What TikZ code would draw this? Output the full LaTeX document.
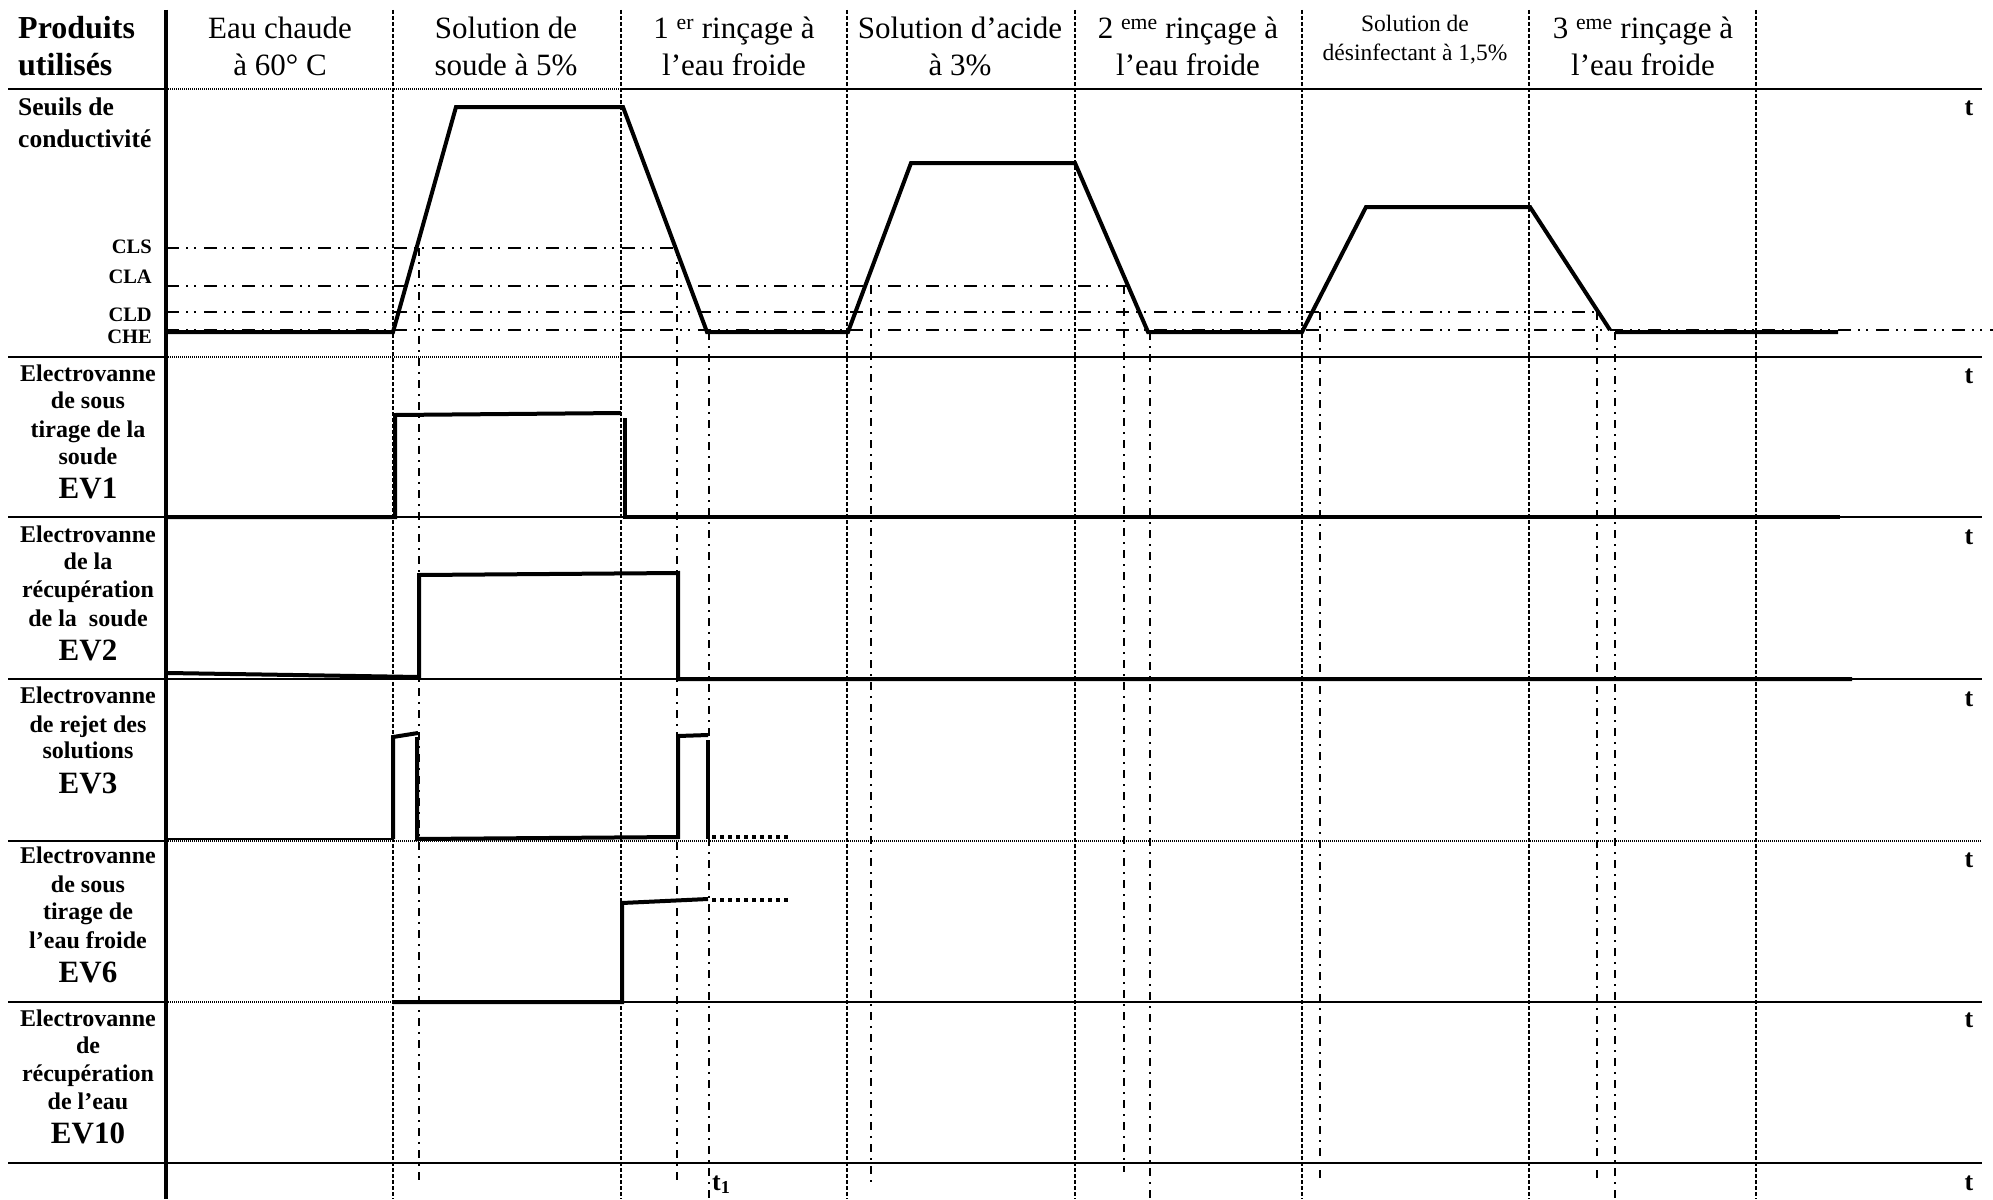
\documentclass[tikz,border=0pt]{standalone}
\usepackage{fontspec}
\setmainfont{Liberation Serif}
\newcommand\myH{\fontsize{31}{36}\selectfont}
\newcommand\myS{\fontsize{23.5}{28}\selectfont}
\newcommand\myL{\bfseries\fontsize{24}{28}\selectfont}
\newcommand\myE{\bfseries\fontsize{31}{36}\selectfont}
\newcommand\myT{\bfseries\fontsize{20.5}{24}\selectfont}
\begin{document}
\begin{tikzpicture}[x=1pt,y=-1pt,
  sig/.style={line width=4pt,line join=miter},
  sep/.style={line width=2pt},
  axisline/.style={line width=4.5pt},
  sect/.style={line width=1.8pt,dash pattern=on 4pt off 2pt},
  vmark/.style={line width=1.6pt,dash pattern=on 8pt off 6pt on 2pt off 6pt},
  thr/.style={line width=1.6pt,dash pattern=on 13pt off 7pt on 2pt off 6pt on 2pt off 8pt},
  dotline/.style={line width=1.6pt,dash pattern=on 1pt off 1pt},
  sigdot/.style={line width=4pt,dash pattern=on 4pt off 4pt},
  hdr/.style={font=\myH,anchor=base,inner sep=0pt},
  hdrs/.style={font=\myS,anchor=base,inner sep=0pt},
  lbl/.style={font=\myL,anchor=base,inner sep=0pt},
  evl/.style={font=\myE,anchor=base,inner sep=0pt},
  thl/.style={font=\myT,anchor=base east,inner sep=0pt},
  tl/.style={font=\bfseries\fontsize{26}{30}\selectfont,anchor=base,inner sep=0pt}]
\useasboundingbox (0,0) rectangle (1993,1199);

% ---------- row separators ----------
\draw[sep] (8,89) -- (166,89);
\draw[dotline] (166,89) -- (621,89);
\draw[sep] (621,89) -- (1982,89);
\draw[sep] (8,357) -- (166,357);
\draw[dotline] (166,357) -- (621,357);
\draw[sep] (621,357) -- (1982,357);
\draw[sep] (8,517) -- (1982,517);
\draw[sep] (8,679) -- (1982,679);
\draw[sep] (8,841) -- (166,841);
\draw[dotline] (166,841) -- (1982,841);
\draw[sep] (8,1002) -- (166,1002);
\draw[dotline] (166,1002) -- (393,1002);
\draw[sep] (622,1002) -- (1982,1002);
\draw[sep] (8,1163) -- (1982,1163);

% ---------- section dividers ----------
\foreach \x in {393,621,847,1075,1302,1529,1756}
  \draw[sect] (\x,10) -- (\x,1199);

% ---------- thresholds ----------
\draw[thr] (166,330) -- (1993,330);
\draw[thr] (166,312) -- (1598,312);
\draw[thr] (166,286) -- (1128,286);
\draw[thr] (166,248) -- (677,248);

% ---------- threshold crossing markers ----------
\draw[vmark] (419,248) -- (419,1182);
\draw[vmark] (677,248) -- (677,1183);
\draw[vmark] (709,332) -- (709,1199);
\draw[vmark] (871,286) -- (871,1182);
\draw[vmark] (1124,286) -- (1124,1172);
\draw[vmark] (1150,332) -- (1150,1199);
\draw[vmark] (1320,312) -- (1320,1180);
\draw[vmark] (1597,312) -- (1597,1183);
\draw[vmark] (1615,332) -- (1615,1199);

% ---------- main axis ----------
\draw[axisline] (166,10) -- (166,1199);

% ---------- conductivity signal ----------
\draw[sig] (168,332) -- (393,332) -- (456,107) -- (623,107) -- (707,332)
  -- (848,332) -- (911,163) -- (1075,163) -- (1148,332)
  -- (1302,332) -- (1366,207) -- (1530,207) -- (1610,330)
  (1615,332) -- (1838,332);

% ---------- EV1 ----------
\draw[sig] (168,517) -- (395,517) -- (395,415) -- (621,413);
\draw[sig] (625,418) -- (625,517) -- (1840,517);
% ---------- EV2 ----------
\draw[sig] (168,673) -- (419,677) -- (419,575) -- (678,573) -- (678,679) -- (1852,679);
% ---------- EV3 ----------
\draw[line width=2pt] (168,839) -- (393,839);
\draw[sig] (393,839) -- (393,737) -- (418,733);
\draw[sig] (417,737) -- (417,839) -- (678,837) -- (678,736) -- (708,735);
\draw[sig] (708,740) -- (708,839);
\draw[sigdot] (712,837) -- (791,837);
% ---------- EV6 ----------
\draw[sig] (393,1002) -- (622,1002) -- (622,903) -- (708,899);
\draw[sigdot] (712,900) -- (791,900);

% ---------- header texts ----------
\node[hdr,font=\bfseries\fontsize{32}{36}\selectfont,anchor=base west] (prod1) at (18,39) {Produits};
\node[hdr,font=\bfseries\fontsize{32}{36}\selectfont,anchor=base west] (prod2) at (18,75) {utilisés};
\node[hdr] (h1a) at (280,39) {Eau chaude};
\node[hdr] (h1b) at (280,75) {à 60° C};
\node[hdr] (h2a) at (506,39) {Solution de};
\node[hdr] (h2b) at (506,75) {soude à 5\%};
\node[hdr] (h3a) at (734,39) {1 \textsuperscript{er} rinçage à};
\node[hdr] (h3b) at (734,75) {l’eau froide};
\node[hdr] (h4a) at (960,39) {Solution d’acide};
\node[hdr] (h4b) at (960,75) {à 3\%};
\node[hdr] (h5a) at (1188,39) {2 \textsuperscript{eme} rinçage à};
\node[hdr] (h5b) at (1188,75) {l’eau froide};
\node[hdrs] (h6a) at (1415,32) {Solution de};
\node[hdrs] (h6b) at (1415,60) {désinfectant à 1,5\%};
\node[hdr] (h7a) at (1643,39) {3 \textsuperscript{eme} rinçage à};
\node[hdr] (h7b) at (1643,75) {l’eau froide};

% ---------- conductivity labels ----------
\node[lbl,font=\bfseries\fontsize{25.5}{30}\selectfont,anchor=base west] (cond1) at (18,115) {Seuils de};
\node[lbl,font=\bfseries\fontsize{25.5}{30}\selectfont,anchor=base west] (cond2) at (18,147) {conductivité};
\node[thl] (cls) at (152,253) {CLS};
\node[thl] (cla) at (152,283) {CLA};
\node[thl] (cld) at (152,321) {CLD};
\node[thl] (che) at (152,343) {CHE};

% ---------- EV1 labels ----------
\node[lbl] (e1a) at (88,381) {Electrovanne};
\node[lbl] (e1b) at (88,408) {de sous};
\node[lbl] (e1c) at (88,437) {tirage de la};
\node[lbl] (e1d) at (88,464) {soude};
\node[evl] (e1e) at (88,498) {EV1};
% ---------- EV2 labels ----------
\node[lbl] (e2a) at (88,542) {Electrovanne};
\node[lbl] (e2b) at (88,569) {de la};
\node[lbl] (e2c) at (88,597) {récupération};
\node[lbl] (e2d) at (88,626) {de la\ \ soude};
\node[evl] (e2e) at (88,660) {EV2};
% ---------- EV3 labels ----------
\node[lbl] (e3a) at (88,703) {Electrovanne};
\node[lbl] (e3b) at (88,732) {de rejet des};
\node[lbl] (e3c) at (88,758) {solutions};
\node[evl] (e3e) at (88,793) {EV3};
% ---------- EV6 labels ----------
\node[lbl] (e6a) at (88,863) {Electrovanne};
\node[lbl] (e6b) at (88,892) {de sous};
\node[lbl] (e6c) at (88,919) {tirage de};
\node[lbl] (e6d) at (88,948) {l’eau froide};
\node[evl] (e6e) at (88,982) {EV6};
% ---------- EV10 labels ----------
\node[lbl] (e10a) at (88,1026) {Electrovanne};
\node[lbl] (e10b) at (88,1053) {de};
\node[lbl] (e10c) at (88,1081) {récupération};
\node[lbl] (e10d) at (88,1109) {de l’eau};
\node[evl] (e10e) at (88,1143) {EV10};

% ---------- time labels ----------
\node[tl] (t0) at (1969,115) {t};
\node[tl] (t1) at (1969,383) {t};
\node[tl] (t2) at (1969,544) {t};
\node[tl] (t3) at (1969,706) {t};
\node[tl] (t4) at (1969,867) {t};
\node[tl] (t5) at (1969,1027) {t};
\node[tl] (t6) at (1969,1190) {t};
\node[tl,anchor=base west] (tone) at (712,1190) {t\textsubscript{1}};
\end{tikzpicture}
\end{document}
